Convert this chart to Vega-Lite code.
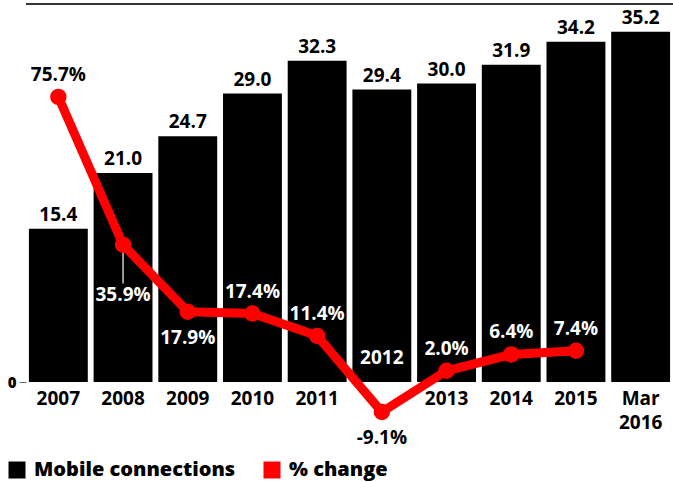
{
  "$schema": "https://vega.github.io/schema/vega-lite/v6.json",
  "width": 647,
  "height": 378,
  "autosize": {"type": "none"},
  "padding": {"left": 26, "top": 4, "right": 0, "bottom": 100},
  "background": "white",
  "config": {"view": {"stroke": null}, "font": "Open Sans"},
  "data": {
    "values": [
      {"year": "2007", "conn": 15.4, "pct": 75.7, "pos": "above"},
      {"year": "2008", "conn": 21.0, "pct": 35.9, "pos": "far"},
      {"year": "2009", "conn": 24.7, "pct": 17.9, "pos": "below"},
      {"year": "2010", "conn": 29.0, "pct": 17.4, "pos": "above"},
      {"year": "2011", "conn": 32.3, "pct": 11.4, "pos": "above"},
      {"year": "2012", "conn": 29.4, "pct": -9.1, "pos": "below"},
      {"year": "2013", "conn": 30.0, "pct": 2.0, "pos": "above"},
      {"year": "2014", "conn": 31.9, "pct": 6.4, "pos": "above"},
      {"year": "2015", "conn": 34.2, "pct": 7.4, "pos": "above"},
      {"year": "Mar 2016", "conn": 35.2, "pct": null, "pos": null}
    ]
  },
  "layer": [
    {
      "layer": [
        {
          "mark": {"type": "bar"},
          "encoding": {
            "x": {
              "field": "year", "type": "nominal", "sort": null,
              "scale": {"paddingInner": 0.09, "paddingOuter": 0.045},
              "axis": {
                "title": null, "labelAngle": 0, "domain": false, "ticks": false,
                "labelPadding": 7, "labelFont": "Open Sans", "labelFontSize": 19, "labelFontWeight": 700,
                "labelBaseline": "top", "labelLineHeight": 24, "labelColor": "black",
                "labelExpr": "datum.value == 'Mar 2016' ? ['Mar', '2016'] : datum.value == '2012' ? '' : datum.label"
              }
            },
            "y": {
              "field": "conn", "type": "quantitative",
              "scale": {"domain": [0, 38], "nice": false},
              "axis": {
                "title": null, "values": [0], "grid": false, "domain": false,
                "tickSize": 7, "tickColor": "#666", "labelFont": "Open Sans",
                "labelFontSize": 15, "labelFontWeight": 800, "labelPadding": 3, "labelColor": "black"
              }
            },
            "color": {
              "datum": "Mobile connections", "type": "nominal",
              "scale": {"domain": ["Mobile connections", "% change"], "range": ["#000000", "#ff0000"]},
              "legend": {
                "orient": "none", "legendX": -19, "legendY": 456, "direction": "horizontal",
                "title": null, "symbolType": "square", "symbolSize": 289, "labelLimit": 400,
                "labelFont": "Open Sans", "labelFontSize": 20, "labelFontWeight": 800, "labelColor": "black",
                "labelOffset": 7, "columnPadding": 26, "symbolStrokeWidth": 0,
                "encode": {"symbols": {"update": {"fill": {"scale": "color", "field": "value"}, "stroke": {"value": "transparent"}, "opacity": {"value": 1}}}}
              }
            }
          }
        },
        {
          "mark": {"type": "text", "baseline": "bottom", "dy": -4, "fontSize": 19, "fontWeight": 700, "font": "Open Sans", "color": "black"},
          "encoding": {
            "x": {"field": "year", "type": "nominal", "sort": null},
            "y": {"field": "conn", "type": "quantitative"},
            "text": {"field": "conn", "type": "quantitative", "format": ".1f"}
          }
        },
        {
          "transform": [{"filter": "datum.year == '2012'"}],
          "mark": {"type": "text", "baseline": "middle", "fontSize": 19, "fontWeight": 700, "font": "Open Sans", "color": "white"},
          "encoding": {
            "x": {"field": "year", "type": "nominal", "sort": null},
            "y": {"datum": 2.4, "type": "quantitative"},
            "text": {"field": "year"}
          }
        },
        {
          "mark": {"type": "rule", "color": "#333333", "strokeWidth": 2},
          "encoding": {"y": {"datum": 38}}
        }
      ]
    },
    {
      "transform": [{"filter": "isValid(datum.pct)"}],
      "layer": [
        {
          "transform": [{"filter": "datum.pos == 'far'"}],
          "mark": {"type": "rule", "color": "#cccccc", "strokeWidth": 1.5},
          "encoding": {
            "x": {"field": "year", "type": "nominal", "sort": null},
            "y": {"field": "pct", "type": "quantitative", "scale": {"domain": [-1.02, 100.7], "nice": false}, "axis": null},
            "y2": {"datum": 25.5}
          }
        },
        {
          "mark": {"type": "line", "strokeWidth": 9, "strokeJoin": "round", "point": {"size": 270, "filled": true, "opacity": 1}},
          "encoding": {
            "x": {"field": "year", "type": "nominal", "sort": null},
            "y": {"field": "pct", "type": "quantitative", "axis": null},
            "color": {"datum": "% change", "type": "nominal"}
          }
        },
        {
          "mark": {
            "type": "text", "baseline": "middle", "fontSize": 19, "fontWeight": 700, "font": "Open Sans",
            "dy": {"expr": "datum.pos == 'above' ? -22 : datum.pos == 'far' ? 50 : 26"},
            "text": {"expr": "replace(format(datum.pct, '.1f'), '\u2212', '-') + '%'"}
          },
          "encoding": {
            "x": {"field": "year", "type": "nominal", "sort": null},
            "y": {"field": "pct", "type": "quantitative", "axis": null},
            "color": {"condition": {"test": "datum.pct > 50 || datum.pct < 0", "value": "black"}, "value": "white"}
          }
        }
      ]
    }
  ],
  "resolve": {"scale": {"y": "independent"}}
}
